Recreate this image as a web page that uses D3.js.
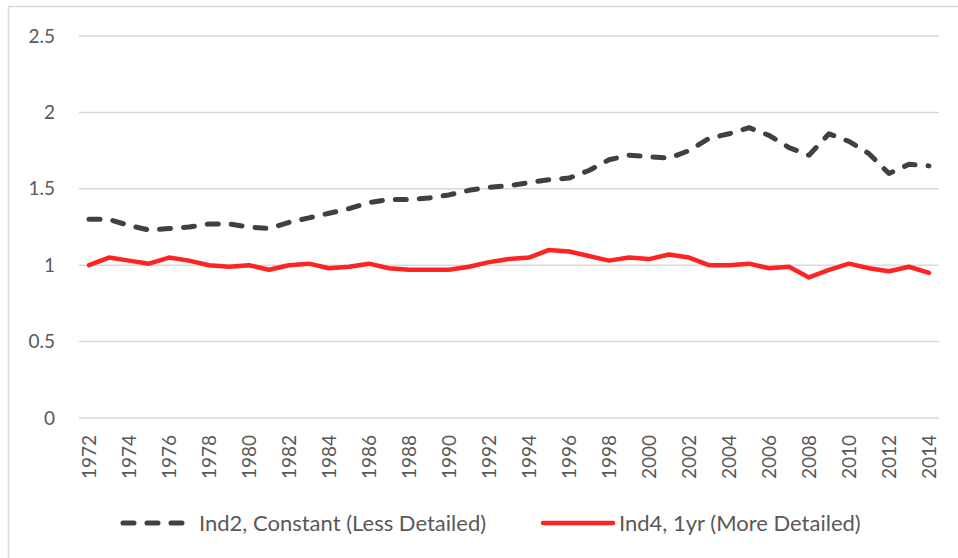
<!DOCTYPE html>
<html>
<head>
<meta charset="utf-8">
<script src="https://cdn.jsdelivr.net/npm/d3@7"></script>
<style>
  body { margin: 0; background: #fff; }
  text { font-family: Lato, "Open Sans", sans-serif; fill: #595959; }
</style>
</head>
<body>
<div id="chart"></div>
<script>
// years on the category axis
var years = d3.range(1972, 2015);
var yTicks = [0, 0.5, 1, 1.5, 2, 2.5];
var seriesNames = ["Ind2, Constant (Less Detailed)", "Ind4, 1yr (More Detailed)"];

// Ind2, Constant (Less Detailed)
var ind2 = [1.30, 1.30, 1.26, 1.23, 1.24, 1.25, 1.27, 1.27, 1.25, 1.24,
            1.28, 1.31, 1.34, 1.37, 1.41, 1.43, 1.43, 1.44, 1.46, 1.49,
            1.51, 1.52, 1.54, 1.56, 1.57, 1.62, 1.69, 1.72, 1.71, 1.70,
            1.75, 1.83, 1.86, 1.90, 1.85, 1.77, 1.72, 1.86, 1.81, 1.73,
            1.60, 1.66, 1.65];
// Ind4, 1yr (More Detailed)
var ind4 = [1.00, 1.05, 1.03, 1.01, 1.05, 1.03, 1.00, 0.99, 1.00, 0.97,
            1.00, 1.01, 0.98, 0.99, 1.01, 0.98, 0.97, 0.97, 0.97, 0.99,
            1.02, 1.04, 1.05, 1.10, 1.09, 1.06, 1.03, 1.05, 1.04, 1.07,
            1.05, 1.00, 1.00, 1.01, 0.98, 0.99, 0.92, 0.97, 1.01, 0.98,
            0.96, 0.99, 0.95];

var W = 958, H = 558;
var margin = {top: 36, right: 19, bottom: 140, left: 79};

var svg = d3.select("#chart").append("svg")
    .attr("width", W).attr("height", H);

// chart frame (only left and top edges show in the crop)
svg.append("rect")
    .attr("x", 8.5).attr("y", 6.5)
    .attr("width", 1000).attr("height", 1000)
    .attr("fill", "none").attr("stroke", "#d9d9d9").attr("stroke-width", 1.5);

var x = d3.scalePoint()
    .domain(years)
    .range([margin.left, W - margin.right])
    .padding(0.5);

var y = d3.scaleLinear()
    .domain([0, 2.5])
    .range([418, margin.top]);

// gridlines
svg.append("g")
    .selectAll("line")
    .data(yTicks)
    .join("line")
    .attr("x1", margin.left).attr("x2", W - margin.right)
    .attr("y1", function(d) { return y(d); })
    .attr("y2", function(d) { return y(d); })
    .attr("stroke", "#d9d9d9").attr("stroke-width", 1.5);

// y axis labels
var yAxis = d3.axisLeft(y).tickValues(yTicks).tickSize(0).tickPadding(0)
    .tickFormat(function(d) { return String(d); });
var gy = svg.append("g").attr("transform", "translate(55,0)").call(yAxis);
gy.select(".domain").remove();
gy.selectAll("text").style("font-size", "19px").attr("fill", "#595959")
    .attr("font-family", null);

// x axis labels, rotated
var xAxis = d3.axisBottom(x)
    .tickValues(years.filter(function(d) { return (d - 1972) % 2 === 0; }))
    .tickSize(0).tickPadding(0);
var gx = svg.append("g").attr("transform", "translate(0,418)").call(xAxis);
gx.select(".domain").remove();
gx.selectAll("text")
    .attr("font-family", null)
    .attr("fill", "#595959")
    .style("font-size", "19px")
    .attr("text-anchor", "end")
    .attr("transform", "rotate(-90)")
    .attr("x", -17).attr("y", 0).attr("dy", "0.35em");

var line = d3.line()
    .x(function(d, i) { return x(years[i]); })
    .y(function(d) { return y(d); });

svg.append("path")
    .datum(ind4)
    .attr("d", line)
    .attr("fill", "none")
    .attr("stroke", "#ff2424")
    .attr("stroke-width", 4.5)
    .attr("stroke-linejoin", "round")
    .attr("stroke-linecap", "round");

svg.append("path")
    .datum(ind2)
    .attr("d", line)
    .attr("fill", "none")
    .attr("stroke", "#404040")
    .attr("stroke-width", 5)
    .attr("stroke-dasharray", "11 13")
    .attr("stroke-linejoin", "round")
    .attr("stroke-linecap", "round");

// legend
var legendY = 523;
var leg = svg.append("g");
leg.append("line")
    .attr("x1", 123).attr("x2", 183).attr("y1", legendY).attr("y2", legendY)
    .attr("stroke", "#404040").attr("stroke-width", 5)
    .attr("stroke-dasharray", "11 13").attr("stroke-linecap", "round");
leg.append("text")
    .attr("x", 199).attr("y", legendY).attr("dy", "0.35em")
    .style("font-size", "22px")
    .text(seriesNames[0]);
leg.append("line")
    .attr("x1", 543).attr("x2", 613).attr("y1", legendY).attr("y2", legendY)
    .attr("stroke", "#ff2424").attr("stroke-width", 4.5)
    .attr("stroke-linecap", "round");
leg.append("text")
    .attr("x", 619).attr("y", legendY).attr("dy", "0.35em")
    .style("font-size", "22px")
    .text(seriesNames[1]);
</script>
</body>
</html>
